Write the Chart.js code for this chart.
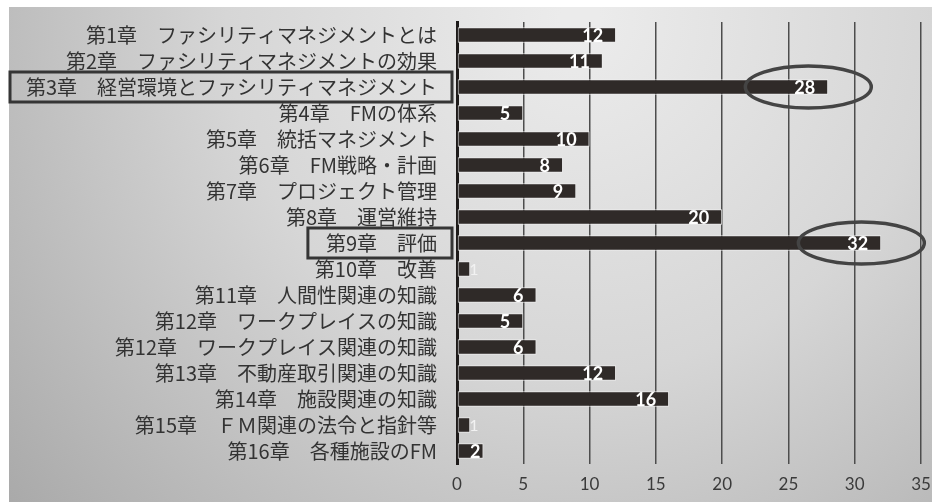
<!DOCTYPE html>
<html>
<head>
<meta charset="utf-8">
<script src="https://cdn.jsdelivr.net/npm/chart.js@4/dist/chart.umd.min.js"></script>
<style>
  html, body { margin: 0; padding: 0; background: #fff; }
  #wrap { width: 932px; height: 502px; }
</style>
</head>
<body>
<div id="wrap"><canvas id="chart" width="932" height="502"></canvas></div>
<script>
// chapters, top to bottom
const chapters = [
  "第1章　ファシリティマネジメントとは",
  "第2章　ファシリティマネジメントの効果",
  "第3章　経営環境とファシリティマネジメント",
  "第4章　FMの体系",
  "第5章　統括マネジメント",
  "第6章　FM戦略・計画",
  "第7章　プロジェクト管理",
  "第8章　運営維持",
  "第9章　評価",
  "第10章　改善",
  "第11章　人間性関連の知識",
  "第12章　ワークプレイスの知識",
  "第12章　ワークプレイス関連の知識",
  "第13章　不動産取引関連の知識",
  "第14章　施設関連の知識",
  "第15章　ＦＭ関連の法令と指針等",
  "第16章　各種施設のFM"
];
const counts = [12, 11, 28, 5, 10, 8, 9, 20, 32, 1, 6, 5, 6, 12, 16, 1, 2];
const xTicks = [0, 5, 10, 15, 20, 25, 30, 35];
const highlighted = [2, 8];   // boxed labels + circled values

let bgPlugin = {
  id: "bg",
  beforeDraw(chart) {
    let ctx = chart.ctx;
    ctx.save();
    ctx.fillStyle = "#ffffff";
    ctx.fillRect(0, 0, chart.width, chart.height);
    let g = ctx.createRadialGradient(580, 20, 20, 580, 20, 760);
    g.addColorStop(0, "#ebebeb");
    g.addColorStop(0.45, "#d6d6d6");
    g.addColorStop(1, "#a8a8a8");
    ctx.fillStyle = g;
    ctx.fillRect(9, 7, chart.width - 9, chart.height - 7);
    ctx.restore();
  }
};

let valuePlugin = {
  id: "values",
  afterDatasetsDraw(chart) {
    let ctx = chart.ctx;
    let meta = chart.getDatasetMeta(0);
    let x0 = chart.scales.x.getPixelForValue(0);
    ctx.save();
    ctx.textBaseline = "middle";
    meta.data.forEach((bar, i) => {
      let v = counts[i];
      let txt = String(v);
      if (v < 2) {
        ctx.font = "16px Lato";
        ctx.fillStyle = "#f2f2f2";
        ctx.textAlign = "left";
        ctx.fillText(txt, bar.x - 1, bar.y + 1);
        return;
      }
      ctx.font = "bold 18px Lato";
      ctx.fillStyle = "#ffffff";
      ctx.textAlign = "right";
      let w = ctx.measureText(txt).width;
      let inset = Math.min(13, Math.max(3, (bar.x - x0) - w - 13));
      ctx.fillText(txt, bar.x - inset, bar.y + 1);
    });
    ctx.restore();
  }
};

let markPlugin = {
  id: "marks",
  afterDraw(chart) {
    let ctx = chart.ctx;
    let xs = chart.scales.x, ys = chart.scales.y;
    ctx.save();
    // boxes round the y labels
    ctx.font = "20px 'Noto Sans CJK JP'";
    ctx.strokeStyle = "#353535";
    ctx.lineWidth = 3;
    highlighted.forEach(i => {
      let cy = ys.getPixelForValue(i);
      let tw = ctx.measureText(chapters[i]).width;
      let right = xs.left - 5;
      let left = Math.max(10, xs.left - 20 - tw - 18);
      ctx.strokeRect(left, cy - 15, right - left, 30);
    });
    // ellipses round the values
    ctx.strokeStyle = "#444";
    ctx.lineWidth = 3.5;
    highlighted.forEach(i => {
      let cy = ys.getPixelForValue(i);
      let cx = xs.getPixelForValue(counts[i] - 1.5);
      let rx = xs.getPixelForValue(4.75) - xs.getPixelForValue(0);
      ctx.beginPath();
      ctx.ellipse(cx, cy, rx, 21, 0, 0, Math.PI * 2);
      ctx.stroke();
    });
    ctx.restore();
  }
};

new Chart(document.getElementById("chart"), {
  type: "bar",
  data: {
    labels: chapters,
    datasets: [{
      data: counts,
      backgroundColor: "#2f2a28",
      borderColor: "rgba(238,238,238,0.9)",
      borderWidth: 1,
      borderSkipped: false,
      barPercentage: 0.6,
      categoryPercentage: 1
    }]
  },
  options: {
    indexAxis: "y",
    responsive: false,
    animation: false,
    layout: { padding: { left: 9, top: 22, right: 11, bottom: 0 } },
    plugins: { legend: { display: false }, tooltip: { enabled: false } },
    scales: {
      x: {
        min: 0,
        max: 35,
        afterFit(scale) {
          scale.height = 38;
          scale.paddingLeft = 0;
          scale.paddingRight = 0;
        },
        afterBuildTicks(scale) { scale.ticks = xTicks.map(v => ({ value: v })); },
        grid: {
          drawTicks: false,
          color: ctx => ctx.tick && ctx.tick.value === 0 ? "rgba(0,0,0,0)" : "#4d4d4d",
          lineWidth: 1.5
        },
        border: { display: false },
        ticks: { padding: 10, color: "#3a3a3a", font: { family: "Lato", size: 17 } }
      },
      y: {
        afterFit(scale) {
          scale.width = 448;
          scale.paddingTop = 0;
          scale.paddingBottom = 0;
        },
        grid: { display: false, drawTicks: false },
        border: { display: true, color: "#1e1b1a", width: 3 },
        ticks: {
          autoSkip: false,
          padding: 20,
          color: "#333",
          font: { family: "Noto Sans CJK JP", size: 20 }
        }
      }
    }
  },
  plugins: [bgPlugin, valuePlugin, markPlugin]
});
</script>
</body>
</html>
